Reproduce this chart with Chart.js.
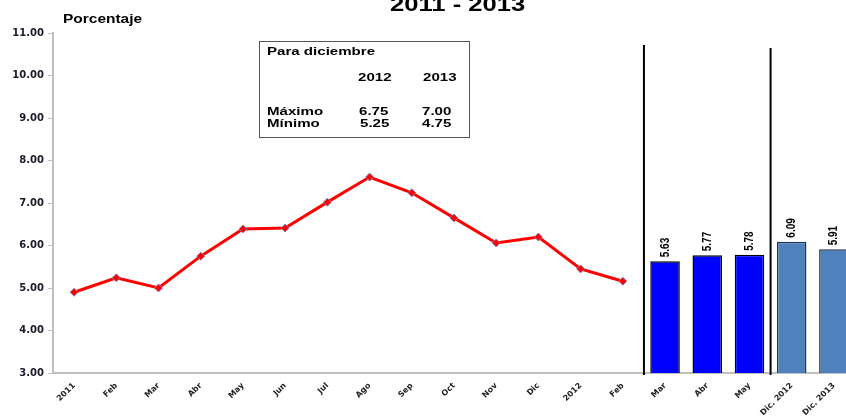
<!DOCTYPE html>
<html>
<head>
<meta charset="utf-8">
<script src="https://cdn.jsdelivr.net/npm/chart.js@4/dist/chart.umd.min.js"></script>
<style>
  body { margin: 0; background: #fff; overflow: hidden; width: 846px; height: 416px; }
  #wrap { position: relative; width: 860px; height: 416px; }
  .t { position: absolute; font-family: "Liberation Sans", Arial, sans-serif; font-weight: bold; color: #000; white-space: nowrap; transform-origin: left top; }
  #title { left: 390px; top: -6px; font-size: 20px; line-height: 20px; transform: scaleX(1.28); }
  #ylab { left: 63px; top: 12px; font-size: 13px; line-height: 13px; transform: scaleX(1.19); }
  #box { position: absolute; left: 259px; top: 41px; width: 211px; height: 97px; border: 1.5px solid #555; box-sizing: border-box; }
  .b { font-size: 11px; line-height: 11px; transform: scaleX(1.37); }
</style>
</head>
<body>
<div id="wrap">
  <canvas id="chart" width="860" height="416"></canvas>
  <div class="t" id="title">2011 - 2013</div>
  <div class="t" id="ylab">Porcentaje</div>
  <div id="box"></div>
  <div class="t b" style="left:267px;top:46px">Para diciembre</div>
  <div class="t b" style="left:358px;top:72px">2012</div>
  <div class="t b" style="left:423px;top:72px">2013</div>
  <div class="t b" style="left:267px;top:106px">Máximo</div>
  <div class="t b" style="left:359px;top:106px">6.75</div>
  <div class="t b" style="left:422px;top:106px">7.00</div>
  <div class="t b" style="left:267px;top:118px">Mínimo</div>
  <div class="t b" style="left:360px;top:118px">5.25</div>
  <div class="t b" style="left:422px;top:118px">4.75</div>
</div>
<script>
var labels = ['2011','Feb','Mar','Abr','May','Jun','Jul','Ago','Sep','Oct','Nov','Dic','2012','Feb','Mar','Abr','May','Dic. 2012','Dic. 2013'];
var observed = [4.90, 5.24, 5.00, 5.75, 6.39, 6.41, 7.02, 7.61, 7.24, 6.65, 6.06, 6.20, 5.45, 5.16];
var monthlyForecast = [5.63, 5.77, 5.78];
var decForecast = [6.09, 5.91];

var lineData = observed.slice();
var barData = observed.map(function() { return null; });
var barColors = observed.map(function() { return '#0000ff'; });
var barBorders = observed.map(function() { return '#000'; });
for (var i = 0; i < monthlyForecast.length; i++) {
  barData.push(monthlyForecast[i]); barColors.push('#0000ff'); barBorders.push('#000');
}
for (var i = 0; i < decForecast.length; i++) {
  barData.push(decForecast[i]); barColors.push('#4f81bd'); barBorders.push('#1f3550');
}
while (lineData.length < labels.length) lineData.push(null);

var dividers = {
  id: 'dividers',
  afterDraw: function(chart) {
    var ctx = chart.ctx, x = chart.scales.x, bottom = chart.chartArea.bottom;
    var cuts = [[13, 14, 45], [16, 17, 48]];
    ctx.save();
    ctx.strokeStyle = '#000';
    ctx.lineWidth = 2;
    cuts.forEach(function(c) {
      var px = (x.getPixelForTick(c[0]) + x.getPixelForTick(c[1])) / 2;
      ctx.beginPath(); ctx.moveTo(px, c[2]); ctx.lineTo(px, bottom + 2); ctx.stroke();
    });
    ctx.restore();
  }
};

var barLabels = {
  id: 'barLabels',
  afterDatasetsDraw: function(chart) {
    var ctx = chart.ctx;
    var meta = chart.getDatasetMeta(1);
    meta.data.forEach(function(el, i) {
      var v = barData[i];
      if (v == null) return;
      ctx.save();
      ctx.translate(el.x, el.y - 4);
      ctx.scale(1.3, 1);
      ctx.rotate(-Math.PI / 2);
      ctx.font = 'bold 10px "Liberation Sans", Arial, sans-serif';
      ctx.fillStyle = '#000';
      ctx.textAlign = 'left';
      ctx.textBaseline = 'middle';
      ctx.fillText(v.toFixed(2), 0, 0);
      ctx.restore();
    });
  }
};

new Chart(document.getElementById('chart'), {
  type: 'bar',
  data: {
    labels: labels,
    datasets: [
      {
        type: 'line',
        data: lineData,
        borderColor: '#ff0000',
        borderWidth: 3,
        pointStyle: 'rectRot',
        pointRadius: 4,
        pointBackgroundColor: '#ff0000',
        pointBorderColor: '#8080c0',
        pointBorderWidth: 1,
        tension: 0,
        spanGaps: false
      },
      {
        type: 'bar',
        data: barData,
        backgroundColor: barColors,
        borderColor: barBorders,
        borderWidth: 1.5,
        categoryPercentage: 1,
        barPercentage: 0.7
      }
    ]
  },
  options: {
    responsive: false,
    animation: false,
    layout: { padding: { top: 33, right: 5, left: 0, bottom: 0 } },
    plugins: { legend: { display: false }, tooltip: { enabled: false } },
    scales: {
      x: {
        grid: { drawOnChartArea: false, drawTicks: false },
        border: { display: true, color: '#c0c0c0', width: 2 },
        ticks: {
          autoSkip: false, maxRotation: 45, minRotation: 45, padding: 8,
          color: '#222',
          font: { family: '"DejaVu Sans", Verdana, sans-serif', weight: 'bold', size: 8 }
        },
        afterFit: function(s) { s.height = 43; }
      },
      y: {
        min: 3, max: 11,
        grid: { drawOnChartArea: false, drawTicks: true, tickLength: 5, color: '#c0c0c0' },
        border: { display: true, color: '#c0c0c0', width: 2 },
        ticks: {
          stepSize: 1, padding: 4, color: '#1a1a2a',
          font: { family: '"DejaVu Sans", Verdana, sans-serif', weight: 'bold', size: 10 },
          callback: function(v) { return v.toFixed(2); }
        },
        afterFit: function(s) { s.width = 53; }
      }
    }
  },
  plugins: [dividers, barLabels]
});
</script>
</body>
</html>
